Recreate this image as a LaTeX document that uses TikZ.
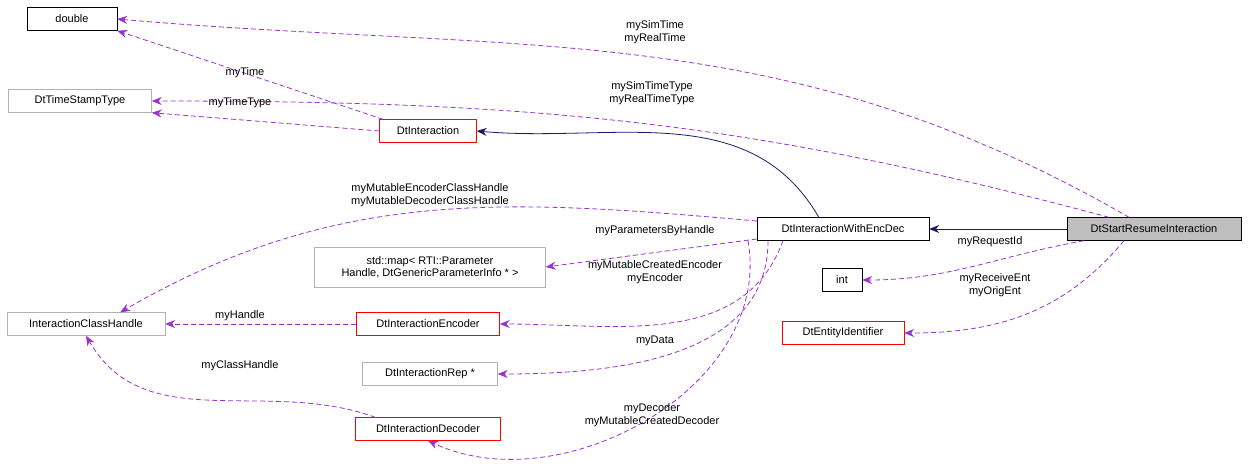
\documentclass[tikz,border=0pt]{standalone}
\usepackage{fontspec}
\setmainfont{Liberation Sans}
\usetikzlibrary{arrows.meta}
\definecolor{edgeviolet}{HTML}{9A32CD}
\definecolor{edgenavy}{HTML}{191970}
\begin{document}
\begin{tikzpicture}[x=1pt,y=-1pt,font=\fontsize{11}{12.5}\selectfont,
  box/.style={draw,inner sep=0pt,minimum height=23pt,align=center},
  blk/.style={box,draw=black},
  gry/.style={box,draw=gray!60},
  rd/.style={box,draw=red},
  use/.style={draw=edgeviolet,line width=0.8pt,dash pattern=on 5pt off 3pt,-{Stealth[length=10pt,width=8pt]}},
  inh/.style={draw=edgenavy,line width=0.8pt,-{Stealth[length=10pt,width=8pt]}},
  lbl/.style={align=center,inner sep=0pt}]
\useasboundingbox (0,0) rectangle (1248,475);
% classes
\node[blk,minimum width=90pt] (dbl) at (72,19) {double};
\node[gry,minimum width=143pt] (tst) at (80,101) {DtTimeStampType};
\node[rd,minimum width=97pt] (inter) at (428,131) {DtInteraction};
\node[gry,minimum width=158pt] (ich) at (86,324) {InteractionClassHandle};
\node[gry,minimum width=231pt,minimum height=40pt] (map) at (430,267) {std::map\textless{} RTI::Parameter\\Handle, DtGenericParameterInfo * \textgreater};
\node[rd,minimum width=143pt] (enc) at (428,324) {DtInteractionEncoder};
\node[gry,minimum width=135pt] (rep) at (430,374) {DtInteractionRep *};
\node[rd,minimum width=145pt] (dec) at (428,429) {DtInteractionDecoder};
\node[blk,minimum width=172pt] (wed) at (843,229) {DtInteractionWithEncDec};
\node[blk,fill=gray!50,minimum width=174pt] (sri) at (1154,229) {DtStartResumeInteraction};
\node[blk,minimum width=40pt] (int) at (842,280) {int};
\node[rd,minimum width=122pt] (eid) at (843,333) {DtEntityIdentifier};
% inheritance
\draw[inh] (sri.west) -- (wed.east);
\draw[inh] (wed.north west) ++(62,0) to[out=120,in=-5] (inter.east);
% members
\draw[use] (sri.north) ++(-25,0) to[out=150,in=-5] (dbl.east);
\node[lbl] at (655,32) {mySimTime\\myRealTime};
\draw[use] (sri.north) ++(-45,0) to[out=165,in=0] (tst.east);
\node[lbl] at (652,93) {mySimTimeType\\myRealTimeType};
\draw[use] (inter.north) ++(-45,0) -- (dbl.south east);
\node[lbl] at (245,73) {myTime};
\draw[use] (inter.west) -- (tst.south east);
\node[lbl] at (240,103) {myTimeType};
\draw[use] (wed.west) ++(0,-8) to[out=175,in=30] ([xshift=-45pt]ich.north east);
\node[lbl] at (430,195) {myMutableEncoderClassHandle\\myMutableDecoderClassHandle};
\draw[use] (wed.west) ++(0,10) -- (map.east);
\node[lbl] at (655,231) {myParametersByHandle};
\draw[use] (wed.south) ++(-60,0) to[out=-110,in=0] (enc.east);
\node[lbl] at (655,272) {myMutableCreatedEncoder\\myEncoder};
\draw[use] (wed.south) ++(-75,0) to[out=-90,in=0] (rep.east);
\node[lbl] at (655,341) {myData};
\draw[use] (wed.south) ++(-95,0) to[out=-80,in=-25] (dec.south);
\node[lbl] at (652,415) {myDecoder\\myMutableCreatedDecoder};
\draw[use] (enc.west) -- (ich.east);
\node[lbl] at (240,316) {myHandle};
\draw[use] (dec.north west) ++(20,0) to[out=160,in=-60] (ich.south);
\node[lbl] at (240,366) {myClassHandle};
\draw[use] (sri.south) ++(-70,0) to[out=-170,in=0] (int.east);
\node[lbl] at (990,242) {myRequestId};
\draw[use] (sri.south) ++(-30,0) to[out=-130,in=0] (eid.east);
\node[lbl] at (995,285) {myReceiveEnt\\myOrigEnt};
\end{tikzpicture}
\end{document}
